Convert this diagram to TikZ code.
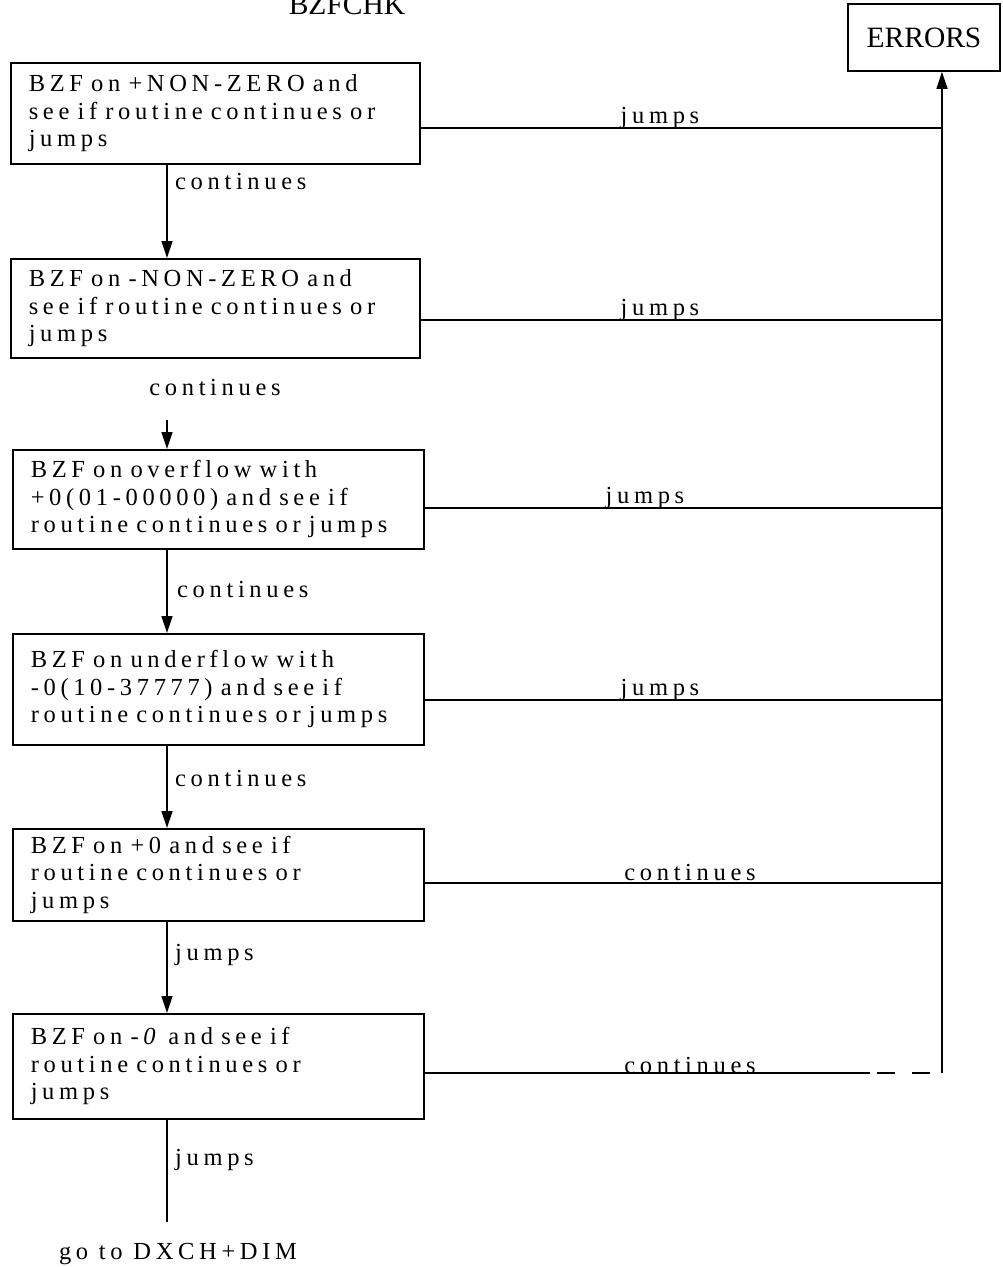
\documentclass[tikz,border=0pt]{standalone}
\usepackage{fontspec}
\setmainfont{Liberation Serif}
\newfontfamily\widefont[LetterSpace=19]{Liberation Serif}
\usetikzlibrary{arrows.meta}
\begin{document}
\begin{tikzpicture}[x=1pt,y=-1pt,
  stepbox/.style={draw,line width=1.6pt,rectangle,anchor=north west,
    inner xsep=18pt,inner ysep=0pt,align=left,
    font=\widefont\fontsize{24.5}{27.5}\selectfont},
  conn/.style={line width=1.3pt},
  arr/.style={conn,-{Triangle[length=17pt,width=11pt]}},
  lbl/.style={font=\widefont\fontsize{24.5}{27.5}\selectfont,inner sep=0pt},
  big/.style={font=\fontsize{29.5}{34}\selectfont,inner sep=0pt}]
\useasboundingbox (0,0) rectangle (1002,1267);

% title and error exit
\node[big,anchor=base] (ttl) at (347,14) {BZFCHK};
\node[draw,line width=1.6pt,minimum width=152pt,minimum height=67pt,big] (err) at (924,37.5) {ERRORS};

% test steps
\node[stepbox,text width=373pt,minimum height=101pt] (b1) at (10,62)
  {BZF on +NON-ZERO and\\see if routine continues or\\jumps};
\node[stepbox,text width=373pt,minimum height=99pt] (b2) at (10,258)
  {BZF on -NON-ZERO and\\see if routine continues or\\jumps};
\node[stepbox,text width=375pt,minimum height=99pt] (b3) at (12,449)
  {BZF on overflow with\\+0(01-00000) and see if\\routine continues or jumps};
\node[stepbox,text width=375pt,minimum height=111pt] (b4) at (12,633)
  {BZF on underflow with\\-0(10-37777) and see if\\routine continues or jumps};
\node[stepbox,text width=375pt,minimum height=92pt] (b5) at (12,828)
  {BZF on +0 and see if\\routine continues or\\jumps};
\node[stepbox,text width=375pt,minimum height=105pt] (b6) at (12,1013)
  {BZF on \textit{-0} and see if\\routine continues or\\jumps};

% main flow downwards
\draw[arr] (167,0 |- b1.south) -- (167,0 |- b2.north);
\node[lbl,anchor=west] (c1) at (175,182) {continues};
\coordinate (g2) at (167,420);
\draw[arr] (g2) -- (167,0 |- b3.north);
\node[lbl] (c2) at (215,388) {continues};
\draw[arr] (167,0 |- b3.south) -- (167,0 |- b4.north);
\node[lbl,anchor=west] (c3) at (177,589) {continues};
\draw[arr] (167,0 |- b4.south) -- (167,0 |- b5.north);
\node[lbl,anchor=west] (c4) at (175,778) {continues};
\draw[arr] (167,0 |- b5.south) -- (167,0 |- b6.north);
\node[lbl,anchor=west] (c5) at (175,955) {jumps};
\coordinate (ex) at (167,1222);
\draw[conn] (167,0 |- b6.south) -- (ex);
\node[lbl,anchor=west] (c6) at (175,1160) {jumps};
\node[lbl,anchor=base] (goto) at (178,1259) {go to DXCH+DIM};

% branches to the error trunk
\coordinate (t1) at (942,128);
\coordinate (t2) at (942,320);
\coordinate (t3) at (942,508);
\coordinate (t4) at (942,700);
\coordinate (t5) at (942,883);
\coordinate (t6) at (942,1073);
\draw[conn] (b1.east |- t1) -- (t1);
\node[lbl,anchor=base] (j1) at (660,123) {jumps};
\draw[conn] (b2.east |- t2) -- (t2);
\node[lbl,anchor=base] (j2) at (660,315) {jumps};
\draw[conn] (b3.east |- t3) -- (t3);
\node[lbl,anchor=base] (j3) at (645,503) {jumps};
\draw[conn] (b4.east |- t4) -- (t4);
\node[lbl,anchor=base] (j4) at (660,695) {jumps};
\draw[conn] (b5.east |- t5) -- (t5);
\node[lbl,anchor=base] (j5) at (690,880) {continues};
\coordinate (d6) at (870,1073);
\coordinate (d6a) at (877,1073);
\coordinate (d6b) at (932,1073);
\draw[conn] (b6.east |- t6) -- (d6);
\draw[conn,dash pattern=on 18pt off 17pt] (d6a) -- (d6b);
\node[lbl,anchor=base] (j6) at (690,1073) {continues};

% trunk up to ERRORS
\draw[arr] (t6) -- (942,0 |- err.south);
\end{tikzpicture}
\end{document}
